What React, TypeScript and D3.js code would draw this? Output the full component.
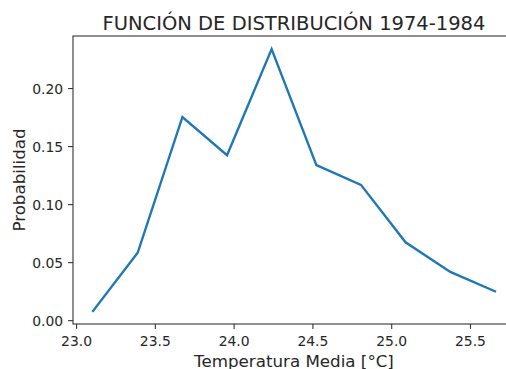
import React from "react";
import * as d3 from "d3";

const temps = [23.105, 23.388, 23.672, 23.955, 24.238, 24.522, 24.805, 25.088, 25.372, 25.655];
const probs = [0.0084, 0.0585, 0.1755, 0.1425, 0.2340, 0.1340, 0.1170, 0.0675, 0.0420, 0.0253];
const xTicks = [23.0, 23.5, 24.0, 24.5, 25.0, 25.5];
const yTicks = [0.0, 0.05, 0.1, 0.15, 0.2];

const title = "FUNCIÓN DE DISTRIBUCIÓN 1974-1984";
const xLabel = "Temperatura Media [°C]";
const yLabel = "Probabilidad";

export default function App() {
  const W = 506, H = 369;
  const left = 73, right = 515, top = 36, bottom = 324;
  const xExt = d3.extent(temps) as [number, number];
  const yExt = d3.extent(probs) as [number, number];
  const xm = (xExt[1] - xExt[0]) * 0.05;
  const ym = (yExt[1] - yExt[0]) * 0.05;
  const x = d3.scaleLinear().domain([xExt[0] - xm, xExt[1] + xm]).range([left, right]);
  const y = d3.scaleLinear().domain([yExt[0] - ym, yExt[1] + ym]).range([bottom, top]);
  const line = d3.line<number>().x((_, i) => x(temps[i])).y((d) => y(d));
  const font = "'DejaVu Sans', sans-serif";
  const tc = "#262626";
  return (
    <svg width={W} height={H} style={{ position: "absolute", left: 0, top: 0 }} fontFamily={font}>
      <rect width={W} height={H} fill="#fff" />
      <path d={line(probs) || ""} fill="none" stroke="#1f77b4" strokeWidth={2.4} strokeLinejoin="miter" strokeLinecap="square" />
      <rect x={left} y={top} width={right - left} height={bottom - top} fill="none" stroke="#333" strokeWidth={1.1} />
      {xTicks.map((t) => (
        <g key={t} transform={`translate(${x(t)},${bottom})`}>
          <line y2={4.9} stroke="#333" strokeWidth={1.1} />
          <text y={21.7} textAnchor="middle" fontSize={13.9} fill={tc}>{t.toFixed(1)}</text>
        </g>
      ))}
      {yTicks.map((t) => (
        <g key={t} transform={`translate(${left},${y(t)})`}>
          <line x2={-4.9} stroke="#333" strokeWidth={1.1} />
          <text x={-9.8} dy="0.36em" textAnchor="end" fontSize={13.9} fill={tc}>{t.toFixed(2)}</text>
        </g>
      ))}
      <text x={(left + right) / 2} y={366.5} textAnchor="middle" fontSize={16.7} fill={tc}>{xLabel}</text>
      <text transform={`translate(25,${(top + bottom) / 2}) rotate(-90)`} textAnchor="middle" fontSize={16.7} fill={tc}>{yLabel}</text>
      <text x={(left + right) / 2} y={29.5} textAnchor="middle" fontSize={19.5} fill={tc}>{title}</text>
    </svg>
  );
}
